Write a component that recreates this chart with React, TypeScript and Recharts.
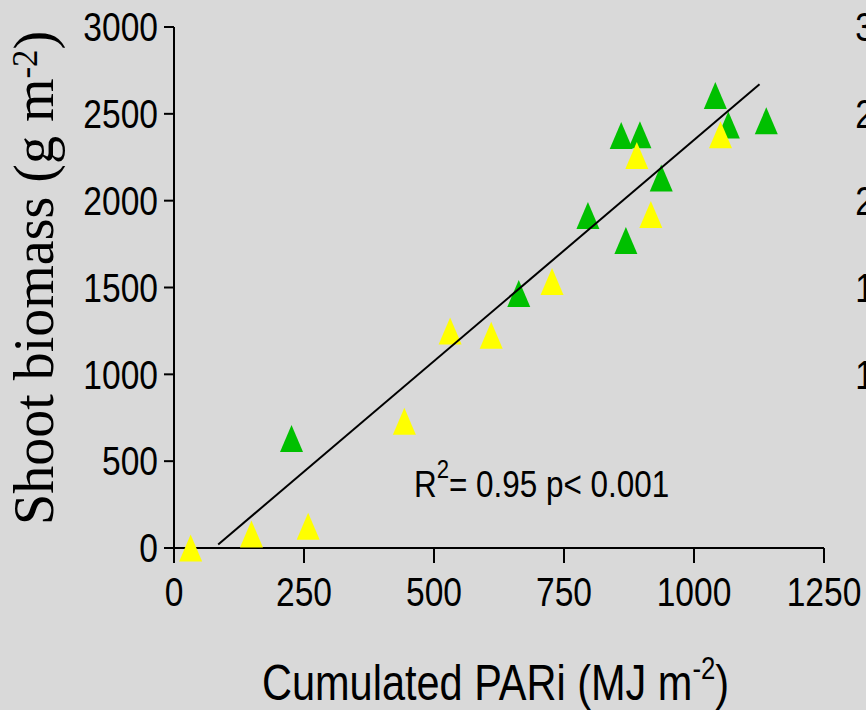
import { Scatter, ScatterChart, XAxis, YAxis } from "recharts";

const pariTicks = [0, 250, 500, 750, 1000, 1250];
const biomassTicks = [0, 500, 1000, 1500, 2000, 2500, 3000];
// the neighbouring panel only shows its upper labels before the page edge
const nextPanelTicks = [1000, 1500, 2000, 2500, 3000];

// green treatment
const greenPari = [226, 663, 796, 869, 937, 860, 896, 1041, 1066, 1139];
const greenBiomass = [630, 1465, 1915, 1770, 2130, 2375, 2380, 2605, 2435, 2460];

// yellow treatment
const yellowPari = [32, 149, 258, 443, 531, 610, 727, 917, 890, 1051];
const yellowBiomass = [0, 80, 125, 730, 1250, 1225, 1535, 1920, 2260, 2380];

// linear fit, end points
const fitPari = [85, 1126];
const fitBiomass = [20, 2670];

const toPoints = (xs: number[], ys: number[]) => xs.map((x, i) => ({ x, y: ys[i] }));

const SANS = "'Liberation Sans', Arial, sans-serif";
const SERIF = "'Liberation Serif', 'Times New Roman', serif";

// condensed sans text (squeezed horizontally)
const Narrow = ({ x, y, size, squeeze = 0.84, anchor = "start", dy, children }: any) => (
    <text
        transform={`translate(${x},${y}) scale(${squeeze},1)`}
        textAnchor={anchor}
        dy={dy}
        fontSize={size}
        fontFamily={SANS}
        fill="#000"
    >
        {children}
    </text>
);

const triangle = (color: string) => (props: any) => {
    const { cx, cy } = props;
    return (
        <path
            d={`M${cx},${cy - 13.5}L${cx + 11.5},${cy + 13.5}L${cx - 11.5},${cy + 13.5}Z`}
            fill={color}
        />
    );
};

const XTick = (props: any) => (
    <Narrow x={props.x} y={props.y} size={40} anchor="middle" dy="0.71em">
        {props.payload.value}
    </Narrow>
);

const YTick = (props: any) => (
    <Narrow x={props.x} y={props.y} size={40} anchor="end" dy="0.355em">
        {props.payload.value}
    </Narrow>
);

// y tick labels of the neighbouring panel, cut off by the page edge
const NextPanelTick = (props: any) => (
    <Narrow x={props.x + 106} y={props.y} size={40} anchor="end" dy="0.355em">
        {props.payload.value}
    </Narrow>
);

const App = () => {
    return (
        <div style={{ position: "fixed", left: 0, top: 0, width: 866, height: 710, background: "#d9d9d9" }}>
            <ScatterChart width={866} height={710} margin={{ top: 27, right: 0, bottom: 102, left: 0 }}>
                <XAxis
                    type="number"
                    dataKey="x"
                    domain={[0, 1250]}
                    ticks={pariTicks}
                    height={60}
                    stroke="#000"
                    strokeWidth={2}
                    tickSize={15}
                    tickMargin={15}
                    tick={<XTick />}
                    interval={0}
                />
                <YAxis
                    type="number"
                    dataKey="y"
                    domain={[0, 3000]}
                    ticks={biomassTicks}
                    width={174}
                    stroke="#000"
                    strokeWidth={2}
                    tickSize={10}
                    tickMargin={6}
                    tick={<YTick />}
                    interval={0}
                />
                <YAxis
                    yAxisId="next"
                    orientation="right"
                    type="number"
                    dataKey="y"
                    domain={[0, 3000]}
                    ticks={nextPanelTicks}
                    width={42}
                    axisLine={false}
                    tickLine={false}
                    tickSize={0}
                    tickMargin={0}
                    tick={<NextPanelTick />}
                    interval={0}
                />
                <Scatter data={toPoints(greenPari, greenBiomass)} shape={triangle("#00c000")} isAnimationActive={false} />
                <Scatter data={toPoints(yellowPari, yellowBiomass)} shape={triangle("#ffff00")} isAnimationActive={false} />
                {/* the fit shares the 0-3000 range, so it can sit on the second axis */}
                <Scatter
                    yAxisId="next"
                    data={toPoints(fitPari, fitBiomass)}
                    line={{ stroke: "#000", strokeWidth: 2 }}
                    shape={() => <g />}
                    isAnimationActive={false}
                />
                <Narrow x={414} y={497} size={37} squeeze={0.85}>
                    R<tspan dy={-19} fontSize={26}>2</tspan>
                    <tspan dy={19}>= 0.95 p&lt; 0.001</tspan>
                </Narrow>
                <Narrow x={262} y={700} size={50} squeeze={0.83}>
                    Cumulated PARi (MJ m<tspan dy={-21} fontSize={31}>-2</tspan>
                    <tspan dy={21}>)</tspan>
                </Narrow>
                <text x={53} y={525} transform="rotate(-90, 53, 525)" fontSize={56} fontFamily={SERIF} fill="#000">
                    Shoot biomass (g m<tspan dy={-16} fontSize={35}>-2</tspan>
                    <tspan dy={16}>)</tspan>
                </text>
            </ScatterChart>
        </div>
    );
};

export default App;
